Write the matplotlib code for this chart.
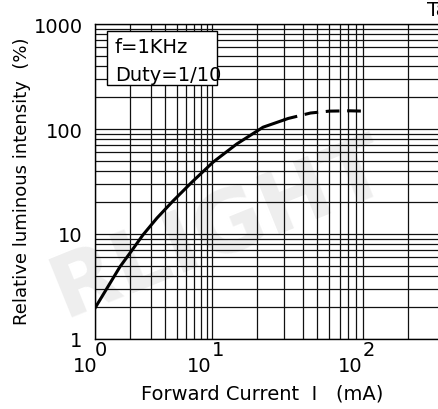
import numpy as np
import matplotlib
matplotlib.use("Agg")
import matplotlib.pyplot as plt
from matplotlib.patches import Rectangle
from matplotlib.ticker import FixedLocator, NullFormatter

plt.rcParams['font.family'] = ['DejaVu Sans']

# curve (forward current mA, relative intensity %)
solid_current = [1, 1.27, 1.63, 2.11, 2.57, 3.39, 4.64, 6.74, 10.2, 14.6, 21.8, 30]
solid_intensity = [1.97, 3.06, 4.85, 7.2, 9.8, 14.2, 20.6, 31.2, 48.5, 72, 104, 122]
dashed_current = [30, 32, 45, 60, 82, 100]
dashed_intensity = [122, 126, 142, 148, 149, 148]

x_decades = [1, 10, 100]
x_exponents = ["0", "1", "2"]
x_grid = [2, 3, 4, 5, 6, 7, 8, 9, 20, 30, 40, 50, 60, 70, 80, 90, 200]
y_ticks = [1, 10, 100, 1000]
y_labels = ["1", "10", "100", "1000"]

# the second decade on the original sheet is drawn wider than the first
STRETCH = 151 / 117


def fwd(x):
    l = np.log10(np.clip(x, 1e-9, None))
    return np.where(l <= 1, l, 1 + (l - 1) * STRETCH)


def inv(u):
    return np.where(u <= 1, 10 ** u, 10 ** (1 + (u - 1) / STRETCH))


fig = plt.figure(figsize=(4.38, 4.10), dpi=100)
ax = fig.add_axes([95 / 438, 70 / 410, 350 / 438, 315 / 410])
ax.set_facecolor("none")

# faint watermark
fig.text(0.50, 0.44, "RLIGHT", fontsize=62, fontweight="bold", color="#eeeeee",
         rotation=22, ha="center", va="center", zorder=-5)

ax.set_xscale("function", functions=(fwd, inv))
ax.set_yscale("log")
ax.set_xlim(1, 350)
ax.set_ylim(1, 1000)

ax.xaxis.set_major_locator(FixedLocator(x_decades))
ax.xaxis.set_minor_locator(FixedLocator(x_grid))
ax.xaxis.set_major_formatter(NullFormatter())
ax.xaxis.set_minor_formatter(NullFormatter())
ax.set_yticks(y_ticks)
ax.set_yticklabels(y_labels)
ax.yaxis.set_minor_formatter(NullFormatter())
ax.tick_params(which="both", length=0, labelsize=14, pad=9)
ax.grid(True, which="both", color="#111111", linewidth=0.9)
for s in ax.spines.values():
    s.set_linewidth(1.0)

ax.plot(solid_current, solid_intensity, color="black", lw=2.2, zorder=3,
        solid_joinstyle="round")
ax.plot(dashed_current, dashed_intensity, color="black", lw=2.2,
        dashes=(4.5, 2.5), zorder=3)

# x tick labels written as "10" with a large raised exponent
for xv, ex in zip(x_decades, x_exponents):
    ax.annotate("10", xy=(xv, 0), xycoords=("data", "axes fraction"),
                xytext=(2 if xv == 1 else 0, -12), textcoords="offset points",
                ha="right", va="top", fontsize=14)
    ax.annotate(ex, xy=(xv, 0), xycoords=("data", "axes fraction"),
                xytext=(0, -1), textcoords="offset points",
                ha="left", va="top", fontsize=14)

fig.text(262 / 438, 1 - 385 / 410, "Forward Current  I   (mA)",
         ha="center", va="top", fontsize=14)
fig.text(22 / 438, 1 - 181 / 410, "Relative luminous intensity  (%)",
         rotation=90, ha="center", va="center", fontsize=13)
fig.text(427 / 438, 1 - 1 / 410, "Ta", ha="left", va="top", fontsize=14)

# condition box
ax.add_patch(Rectangle((0.034, 0.806), 0.315, 0.172, transform=ax.transAxes,
                       facecolor="white", edgecolor="black", lw=1.0, zorder=4))
ax.text(0.057, 0.911, "f=1KHz", transform=ax.transAxes, fontsize=14,
        va="baseline", ha="left", zorder=5)
ax.text(0.057, 0.822, "Duty=1/10", transform=ax.transAxes, fontsize=14,
        va="baseline", ha="left", zorder=5)

fig.savefig("out.png", dpi=100)
